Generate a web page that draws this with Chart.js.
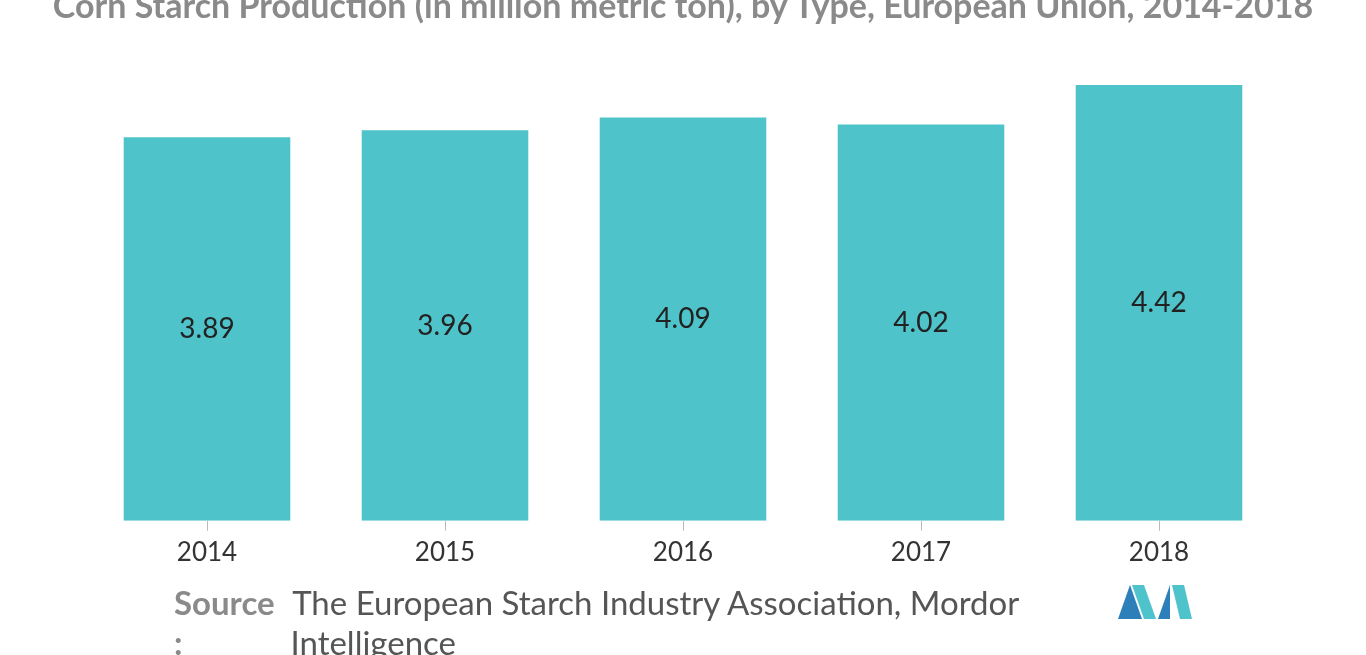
<!DOCTYPE html>
<html>
<head>
<meta charset="utf-8">
<script src="https://cdn.jsdelivr.net/npm/chart.js@4"></script>
<style>
  body { margin: 0; background: #fff; font-family: Lato, sans-serif; }
  #wrap { position: relative; width: 1366px; height: 655px; overflow: hidden; }
  #title { position: absolute; top: -16px; left: 0; width: 1366px; text-align: center;
           font-size: 34px; font-weight: bold; color: #8a8a8a; white-space: nowrap; }
  #src { position: absolute; top: 582px; left: 174px; font-size: 33px; color: #555; }
  #src b { color: #8a8a8a; margin-right: 10px; }
  #logo { position: absolute; left: 1118px; top: 585px; }
</style>
</head>
<body>
<div id="wrap">
  <canvas id="myChart" width="1366" height="655"></canvas>
  <div id="title">Corn Starch Production (in million metric ton), by Type, European Union, 2014-2018</div>
  <div id="src"><b>Source</b> The European Starch Industry Association, Mordor<br><span style="color:#8a8a8a;font-weight:bold;margin-right:108px">:</span>Intelligence</div>
  <svg id="logo" width="74" height="34" viewBox="0 0 74 34">
    <polygon points="0,34 12,0 24,34" fill="#2c7fb8"/>
    <polygon points="14,0 26,0 38,34 26,34" fill="#4fc3cc"/>
    <polygon points="40,34 52,0 52,34" fill="#2c7fb8"/>
    <polygon points="54,0 66,0 74,34 62,34" fill="#4fc3cc"/>
  </svg>
</div>
<script>
// datos del grafico
const years = ["2014", "2015", "2016", "2017", "2018"];
const production = [3.89, 3.96, 4.09, 4.02, 4.42];

const labelsInBars = {
  id: "labelsInBars",
  afterDatasetsDraw(chart) {
    const ctx = chart.ctx;
    const meta = chart.getDatasetMeta(0);
    ctx.save();
    ctx.font = "28px Lato";
    ctx.fillStyle = "#222";
    ctx.textAlign = "center";
    ctx.textBaseline = "middle";
    meta.data.forEach((bar, i) => {
      ctx.fillText(production[i].toFixed(2), bar.x, (bar.y + bar.base) / 2);
    });
    ctx.restore();
  },
};

new Chart(document.querySelector("#myChart").getContext("2d"), {
  type: "bar",
  data: {
    labels: years,
    datasets: [{ data: production, backgroundColor: "#4fc3ca", barPercentage: 0.7, categoryPercentage: 1 }],
  },
  options: {
    responsive: false,
    animation: false,
    layout: { padding: { left: 88, right: 88, top: 85, bottom: 81 } },
    plugins: { legend: { display: false }, tooltip: { enabled: false } },
    scales: {
      y: { display: false, min: 0, max: 4.42 },
      x: {
        grid: { display: true, offset: false, drawOnChartArea: false, tickLength: 10, color: "#bbb" },
        border: { display: false },
        ticks: { font: { family: "Lato", size: 26 }, color: "#333", padding: 6 },
      },
    },
  },
  plugins: [labelsInBars],
});
</script>
</body>
</html>
